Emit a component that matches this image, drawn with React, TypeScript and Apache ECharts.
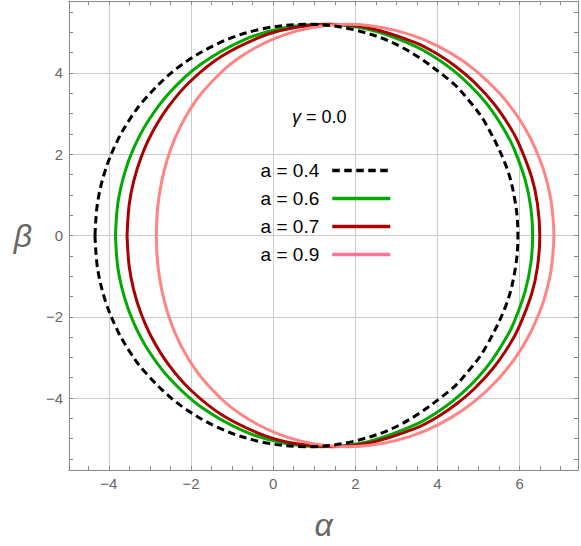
import React, { useEffect, useRef } from "react";
import * as echarts from "echarts";

// Legend names
const seriesNames = ["a = 0.4", "a = 0.6", "a = 0.7", "a = 0.9"];
const gammaValue = "0.0";

// Shadow contours (alpha, beta)
const shadowA04: [number, number][] = [
  [-4.337, 0], [-4.275, 0.807], [-4.087, 1.603], [-3.803, 2.309], [-3.517, 2.819],
  [-3.132, 3.348], [-2.346, 4.111], [-1.333, 4.729], [-0.286, 5.079], [0.8, 5.196],
  [1.925, 5.071], [3.091, 4.655], [4.299, 3.816], [4.794, 3.286], [5.17, 2.758],
  [5.678, 1.688], [5.895, 0.805], [5.957, 0],
  [5.895, -0.805], [5.678, -1.688], [5.17, -2.758], [4.794, -3.286], [4.299, -3.816],
  [3.091, -4.655], [1.925, -5.071], [0.8, -5.196], [-0.286, -5.079], [-1.333, -4.729],
  [-2.346, -4.111], [-3.132, -3.348], [-3.517, -2.819], [-3.803, -2.309], [-4.087, -1.603],
  [-4.275, -0.807], [-4.337, 0],
];

const shadowA06: [number, number][] = [
  [-3.839, 0], [-3.778, 0.811], [-3.613, 1.549], [-3.392, 2.154], [-3.056, 2.798],
  [-2.542, 3.496], [-1.772, 4.208], [-0.71, 4.815], [0.219, 5.099], [1.2, 5.196],
  [2.312, 5.071], [3.489, 4.644], [4.144, 4.246], [4.564, 3.911], [4.99, 3.485],
  [5.337, 3.052], [5.689, 2.488], [5.867, 2.124], [6.136, 1.362], [6.272, 0.679], [6.316, 0],
  [6.272, -0.679], [6.136, -1.362], [5.867, -2.124], [5.689, -2.488], [5.337, -3.052],
  [4.99, -3.485], [4.564, -3.911], [4.144, -4.246], [3.489, -4.644], [2.312, -5.071],
  [1.2, -5.196], [0.219, -5.099], [-0.71, -4.815], [-1.772, -4.208], [-2.542, -3.496],
  [-3.056, -2.798], [-3.392, -2.154], [-3.613, -1.549], [-3.778, -0.811], [-3.839, 0],
];

const shadowA07: [number, number][] = [
  [-3.557, 0], [-3.506, 0.751], [-3.398, 1.324], [-3.225, 1.896], [-2.964, 2.497],
  [-2.564, 3.152], [-2.015, 3.796], [-1.244, 4.416], [-0.207, 4.924], [0.573, 5.126],
  [1.4, 5.196], [2.34, 5.106], [3.475, 4.741], [4.036, 4.441], [4.467, 4.141],
  [4.908, 3.759], [5.359, 3.26], [5.742, 2.707], [5.974, 2.274], [6.289, 1.444],
  [6.432, 0.784], [6.49, 0],
  [6.432, -0.784], [6.289, -1.444], [5.974, -2.274], [5.742, -2.707], [5.359, -3.26],
  [4.908, -3.759], [4.467, -4.141], [4.036, -4.441], [3.475, -4.741], [2.34, -5.106],
  [1.4, -5.196], [0.573, -5.126], [-0.207, -4.924], [-1.244, -4.416], [-2.015, -3.796],
  [-2.564, -3.152], [-2.964, -2.497], [-3.225, -1.896], [-3.398, -1.324], [-3.506, -0.751],
  [-3.557, 0],
];

const shadowA09: [number, number][] = [
  [-2.844, 0], [-2.826, 0.507], [-2.788, 0.885], [-2.712, 1.338], [-2.589, 1.834],
  [-2.395, 2.382], [-2.127, 2.93], [-1.744, 3.5], [-1.185, 4.09], [-0.817, 4.379],
  [-0.388, 4.645], [0.073, 4.863], [0.608, 5.042], [1.184, 5.156], [1.8, 5.196],
  [2.361, 5.163], [3.004, 5.042], [3.683, 4.813], [4.342, 4.475], [4.915, 4.07],
  [5.51, 3.499], [5.94, 2.943], [6.253, 2.41], [6.507, 1.828], [6.636, 1.43],
  [6.766, 0.84], [6.832, 0],
  [6.766, -0.84], [6.636, -1.43], [6.507, -1.828], [6.253, -2.41], [5.94, -2.943],
  [5.51, -3.499], [4.915, -4.07], [4.342, -4.475], [3.683, -4.813], [3.004, -5.042],
  [2.361, -5.163], [1.8, -5.196], [1.184, -5.156], [0.608, -5.042], [0.073, -4.863],
  [-0.388, -4.645], [-0.817, -4.379], [-1.185, -4.09], [-1.744, -3.5], [-2.127, -2.93],
  [-2.395, -2.382], [-2.589, -1.834], [-2.712, -1.338], [-2.788, -0.885], [-2.826, -0.507],
  [-2.844, 0],
];

const FONT = "'Liberation Sans', Arial, Helvetica, sans-serif";
const FRAME = "#888888";
const GRIDC = "#cccccc";
const LABELC = "#666666";

const minusFmt = (v: number) => String(v).replace("-", "\u2212");

function frameAxis(position: string, min: number, max: number, main: boolean, name?: string) {
  return {
    type: "value",
    position,
    min,
    max,
    name: main ? name : undefined,
    nameLocation: "middle",
    nameGap: position === "bottom" ? 39 : 37,
    nameRotate: 0,
    nameTextStyle: { fontSize: 32, fontStyle: "italic", color: LABELC, fontFamily: FONT },
    axisLine: { show: true, onZero: false, lineStyle: { color: FRAME, width: 1 } },
    axisTick: { show: true, inside: true, length: 4, lineStyle: { color: FRAME } },
    minorTick: { show: true, splitNumber: 4, length: 4, lineStyle: { color: FRAME } },
    axisLabel: {
      show: main,
      showMinLabel: false,
      showMaxLabel: false,
      formatter: minusFmt,
      color: LABELC,
      fontSize: 15,
      fontFamily: FONT,
      margin: 6,
    },
    splitLine: { show: main, lineStyle: { color: GRIDC, width: 1 } },
    minorSplitLine: { show: false },
  };
}

export default function App() {
  const ref = useRef<HTMLDivElement>(null);
  useEffect(() => {
    document.body.style.margin = "0";
    const chart = echarts.init(ref.current!, null, { renderer: "svg" });
    const curves = [shadowA04, shadowA06, shadowA07, shadowA09];
    const colors = ["#000000", "#00aa00", "#aa0000", "#ff8585"];
    const legendColors = ["#000000", "#00aa00", "#aa0000", "#ff7396"];
    const option: any = {
      animation: false,
      grid: { left: 69, right: 3, top: 1, bottom: 70, containLabel: false },
      xAxis: [
        frameAxis("bottom", -4.97, 7.42, true, "\u03b1"),
        frameAxis("top", -4.97, 7.42, false),
      ],
      yAxis: [
        frameAxis("left", -5.77, 5.77, true, "\u03b2"),
        frameAxis("right", -5.77, 5.77, false),
      ],
      legend: {
        orient: "vertical",
        align: "right",
        right: 189,
        top: 161,
        padding: 0,
        itemWidth: 58,
        itemHeight: 14,
        itemGap: 9,
        selectedMode: false,
        itemStyle: { opacity: 0 },
        textStyle: { fontSize: 19, color: "#000", fontFamily: FONT, lineHeight: 18, padding: [0, 8, 0, 0] },
        data: seriesNames.map((n, i) => ({
          name: n,
          itemStyle: { color: legendColors[i], opacity: 0 },
          lineStyle: { color: legendColors[i], width: 3.5 },
        })),
      },
      graphic: [
        {
          type: "text",
          left: 292,
          top: 108,
          style: {
            text: "{g|\u03b3} = " + gammaValue,
            fontSize: 18,
            fontFamily: FONT,
            fill: "#000",
            rich: { g: { fontStyle: "italic", fontSize: 18, fontFamily: FONT } },
          },
        },
      ],
      series: curves.map((d, i) => ({
        name: seriesNames[i],
        type: "line",
        xAxisIndex: 0,
        yAxisIndex: 0,
        data: d,
        symbol: "none",
        showSymbol: false,
        smooth: 0.35,
        z: 3 + (i === 0 ? 4 : i),
        itemStyle: { color: colors[i] },
        lineStyle: {
          color: colors[i],
          width: 3,
          type: i === 0 ? [7.5, 4.5] : "solid",
        },
      })),
    };
    chart.setOption(option);
    return () => chart.dispose();
  }, []);
  return <div ref={ref} style={{ width: 581, height: 546 }} />;
}
